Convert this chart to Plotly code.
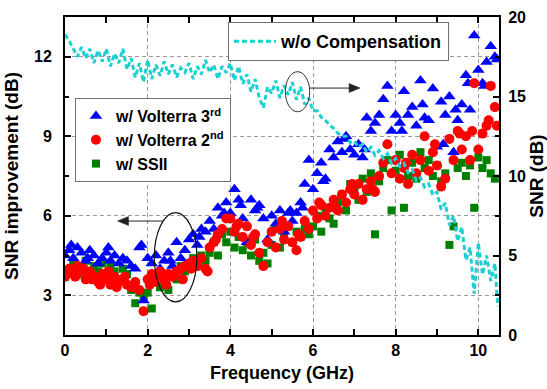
import plotly.graph_objects as go

# ---------------- data ----------------
freq = [0.0, 0.1, 0.2, 0.3, 0.4, 0.5, 0.6, 0.7, 0.8, 0.9,
        1.0, 1.1, 1.2, 1.3, 1.4, 1.5, 1.6, 1.7, 1.8, 1.9,
        2.0, 2.1, 2.2, 2.3, 2.4, 2.5, 2.6, 2.7, 2.8, 2.9,
        3.0, 3.1, 3.2, 3.3, 3.4, 3.5, 3.6, 3.7, 3.8, 3.9,
        4.0, 4.1, 4.2, 4.3, 4.4, 4.5, 4.6, 4.7, 4.8, 4.9,
        5.0, 5.1, 5.2, 5.3, 5.4, 5.5, 5.6, 5.7, 5.8, 5.9,
        6.0, 6.1, 6.2, 6.3, 6.4, 6.5, 6.6, 6.7, 6.8, 6.9,
        7.0, 7.1, 7.2, 7.3, 7.4, 7.5, 7.6, 7.7, 7.8, 7.9,
        8.0, 8.1, 8.2, 8.3, 8.4, 8.5, 8.6, 8.7, 8.8, 8.9,
        9.0, 9.1, 9.2, 9.3, 9.4, 9.5, 9.6, 9.7, 9.8, 9.9,
        10.0, 10.1, 10.2, 10.3, 10.4]

# SNR improvement (dB), w/ Volterra 3rd
volterra3 = [4.5, 4.7, 4.4, 4.8, 4.6, 4.3, 4.7, 4.5, 4.2, 4.4,
             4.6, 4.3, 4.5, 4.2, 4.4, 4.3, 4.1, 4.0, 4.8, 2.8,
             4.4, 4.2, 4.5, 4.0, 4.3, 4.6, 4.1, 5.0, 4.4, 4.7,
             5.1, 5.3, 4.9, 5.5, 5.4, 5.8, 5.5, 6.3, 6.0, 6.5,
             6.1, 7.0, 6.6, 5.9, 5.0, 6.6, 6.2, 6.4, 5.9, 5.1,
             6.0, 5.7, 6.2, 5.4, 6.1, 5.8, 6.1, 6.5, 7.2, 8.1,
             7.0, 7.6, 8.0, 7.4, 8.5, 8.2, 8.8, 8.4, 9.0, 8.5,
             8.3, 8.7, 8.2, 9.7, 9.2, 9.5, 9.8, 10.4, 10.9, 9.2,
             9.8, 9.5, 10.7, 9.8, 10.1, 9.4, 11.1, 9.7, 9.6, 10.8,
             8.6, 10.3, 9.8, 10.5, 8.4, 9.6, 10.2, 11.3, 10.0, 12.8,
             11.5, 11.0, 11.8, 12.4, 12.0]
volterra3_extra_freq = [0.15, 0.55, 1.05, 1.85, 2.55, 3.25, 3.85, 4.25, 4.65, 5.45,
                        5.75, 6.25, 6.75, 7.25, 8.15, 8.65, 9.15, 9.45, 9.75, 10.15, 10.45]
volterra3_extra = [4.9, 4.4, 4.8, 4.9, 4.3, 5.2, 6.1, 6.4, 6.3, 6.2,
                   6.3, 7.3, 8.9, 8.5, 9.2, 10.2, 8.7, 10.0, 11.0, 10.9, 11.9]

# SNR improvement (dB), w/ Volterra 2nd
volterra2 = [3.7, 4.0, 3.8, 4.1, 3.9, 3.6, 3.9, 3.7, 3.5, 3.8,
             3.6, 3.4, 3.7, 3.5, 3.6, 3.4, 3.3, 3.5, 3.2, 2.4,
             3.6, 3.8, 3.5, 3.9, 3.6, 3.8, 3.7, 3.9, 4.0, 4.1,
             4.2, 4.3, 4.1, 4.4, 4.0, 4.8, 5.0, 5.3, 5.5, 5.9,
             5.9, 5.4, 5.7, 5.2, 5.6, 4.9, 5.3, 4.6, 4.1, 5.0,
             5.4, 4.8, 5.5, 5.1, 5.6, 5.0, 4.7, 5.2, 5.8, 5.5,
             6.2, 5.9, 6.4, 6.0, 6.3, 6.6, 6.2, 6.8, 6.5, 7.0,
             6.8, 7.2, 6.6, 7.0, 7.3, 6.9, 7.5, 8.0, 8.7, 7.6,
             8.1, 7.4, 7.8, 7.2, 8.3, 7.6, 8.1, 9.0, 7.7, 8.4,
             7.9, 7.1, 7.4, 8.9, 8.1, 9.2, 8.5, 9.0, 8.1, 11.0,
             8.5, 9.1, 9.4, 10.9, 10.1]
volterra2_extra_freq = [0.05, 0.25, 0.45, 0.65, 0.85, 1.05, 1.25, 1.45, 1.65, 2.05,
                        2.25, 2.45, 2.65, 2.85, 3.05, 3.45, 3.65, 4.15, 4.55, 5.25,
                        5.65, 6.15, 6.55, 6.95, 7.45, 8.25, 8.95, 9.55, 9.85, 10.25, 10.45]
volterra2_extra = [3.9, 3.7, 4.0, 3.6, 3.4, 3.9, 3.3, 3.7, 3.3, 3.4,
                   3.6, 3.4, 3.8, 3.6, 4.0, 3.9, 5.1, 5.6, 5.2, 5.8,
                   5.3, 6.5, 6.3, 7.2, 7.0, 8.0, 8.7, 9.1, 9.2, 9.6, 9.4]

# SNR improvement (dB), w/ SSII
ssii = [3.7, 3.9, 4.2, 3.8, 4.0, 4.3, 3.7, 4.1, 3.9, 4.2,
        3.8, 4.1, 3.9, 3.6, 4.0, 3.8, 3.2, 2.7, 3.1, 3.0,
        3.1, 2.5, 3.5, 3.3, 3.7, 3.2, 3.8, 3.6, 4.1, 3.9,
        4.0, 4.4, 4.2, 4.5, 4.3, 4.6, 5.0, 4.5, 5.3, 5.0,
        5.4, 4.8, 5.2, 4.7, 5.0, 4.5, 5.1, 4.3, 4.6, 4.2,
        4.9, 5.5, 4.8, 5.3, 5.6, 5.0, 5.4, 5.2, 5.5, 5.3,
        5.6, 6.0, 5.4, 6.3, 5.9, 5.7, 6.5, 6.8, 6.2, 7.2,
        7.0, 6.6, 7.4, 6.9, 7.6, 5.3, 7.3, 7.8, 8.1, 6.2,
        7.7, 8.3, 6.3, 7.5, 8.0, 7.4, 8.4, 7.8, 8.1, 7.5,
        7.9, 7.3, 7.6, 4.9, 5.6, 7.8, 8.0, 7.5, 7.9, 6.3,
        8.2, 7.8, 8.1, 7.6, 7.4]

# SNR (dB) without compensation (right axis)
snr_freq = [0.0, 0.1, 0.2, 0.3, 0.4, 0.5, 0.6, 0.7, 0.8, 0.9,
            1.0, 1.1, 1.2, 1.3, 1.4, 1.5, 1.6, 1.7, 1.8, 1.9,
            2.0, 2.1, 2.2, 2.3, 2.4, 2.5, 2.6, 2.7, 2.8, 2.9,
            3.0, 3.1, 3.2, 3.3, 3.4, 3.5, 3.6, 3.7, 3.8, 3.9,
            4.0, 4.1, 4.2, 4.3, 4.4, 4.5, 4.6, 4.7, 4.8, 4.9,
            5.0, 5.1, 5.2, 5.3, 5.4, 5.5, 5.6, 5.7, 5.8, 5.9,
            6.0, 6.1, 6.2, 6.3, 6.4, 6.5, 6.6, 6.7, 6.8, 6.9,
            7.0, 7.1, 7.2, 7.3, 7.4, 7.5, 7.6, 7.7, 7.8, 7.9,
            8.0, 8.1, 8.2, 8.3, 8.4, 8.5, 8.6, 8.7, 8.8, 8.9,
            9.0, 9.1, 9.2, 9.3, 9.4, 9.5, 9.6, 9.7, 9.8, 9.9,
            10.0, 10.1, 10.2, 10.3, 10.4, 10.47]
snr_wo = [18.9, 18.5, 18.0, 17.5, 18.1, 17.4, 18.0, 17.1, 17.9, 17.2,
          18.0, 16.9, 17.7, 17.1, 18.0, 16.7, 17.4, 16.2, 17.1, 15.9,
          17.3, 16.1, 17.0, 16.3, 17.2, 16.4, 17.0, 16.2, 16.8, 16.5,
          17.1, 16.1, 16.9, 16.4, 17.3, 16.5, 17.0, 16.1, 16.9, 16.5,
          17.1, 16.0, 16.9, 15.8, 16.4, 15.3, 16.1, 14.9, 14.3, 15.6,
          15.2, 16.0, 14.9, 15.7, 15.1, 15.9, 14.8, 15.6, 14.5, 14.9,
          14.1, 14.1, 13.7, 13.5, 13.2, 13.0, 12.7, 12.5, 12.5, 12.1,
          12.2, 11.8, 12.0, 11.5, 11.8, 11.3, 11.6, 11.1, 11.4, 10.8,
          11.1, 10.6, 10.8, 10.2, 10.4, 9.7, 9.9, 9.3, 9.5, 8.8,
          9.0, 7.9, 8.3, 6.9, 7.5, 5.9, 6.8, 4.7, 5.5, 2.6,
          5.8, 3.8, 5.0, 3.4, 4.5, 1.8]

# ---------------- figure ----------------
FONT = "Liberation Sans, Arial, sans-serif"
blue, red, green, cyan = "#0000FF", "#FF0000", "#008000", "#1ECFD2"

fig = go.Figure()
fig.add_trace(go.Scatter(
    x=freq, y=ssii, mode="markers", name="w/ SSII", legend="legend2", legendrank=3,
    marker=dict(symbol="square", size=8, color=green, line=dict(width=0))))
fig.add_trace(go.Scatter(
    x=freq + volterra3_extra_freq, y=volterra3 + volterra3_extra, mode="markers",
    name="w/ Volterra 3<sup>rd</sup>", legend="legend2", legendrank=1,
    marker=dict(symbol="triangle-up", size=11, color=blue, line=dict(width=0))))
fig.add_trace(go.Scatter(
    x=freq + volterra2_extra_freq, y=volterra2 + volterra2_extra, mode="markers",
    name="w/ Volterra 2<sup>nd</sup>", legend="legend2", legendrank=2,
    marker=dict(symbol="circle", size=10, color=red, line=dict(width=0))))
fig.add_trace(go.Scatter(
    x=snr_freq, y=snr_wo, mode="lines", name="w/o Compensation", yaxis="y2",
    legend="legend", line=dict(color=cyan, width=3, dash="5px,3px")))

axis_common = dict(
    showline=True, linecolor="black", linewidth=2, ticks="inside",
    tickcolor="black", tickwidth=1.5, zeroline=False, automargin=False,
    tickfont=dict(family=FONT, size=16, color="black", weight="bold"),
)

# arrow annotations as shapes (line + filled head, head size in pixels)
arrow_color = "#222222"
shapes = [
    dict(type="circle", xref="x", yref="y2", x0=5.33, x1=5.92, y0=14.04, y1=16.56,
         line=dict(color="#333333", width=1)),
    dict(type="circle", xref="x", yref="y", x0=2.16, x1=3.19, y0=2.75, y1=6.12,
         line=dict(color="#111111", width=1.2)),
    dict(type="line", xref="x", yref="y2", x0=5.92, x1=6.95, y0=15.53, y1=15.53,
         line=dict(color=arrow_color, width=1)),
    dict(type="path", xref="x", yref="y2", xsizemode="pixel", ysizemode="pixel",
         xanchor=7.14, yanchor=15.53, path="M0,0 L-11,-4.5 L-11,4.5 Z",
         fillcolor=arrow_color, line=dict(color=arrow_color, width=0.5)),
    dict(type="line", xref="x", yref="y", x0=2.36, x1=1.45, y0=5.8, y1=5.8,
         line=dict(color=arrow_color, width=1)),
    dict(type="path", xref="x", yref="y", xsizemode="pixel", ysizemode="pixel",
         xanchor=1.27, yanchor=5.8, path="M0,0 L11,-4.5 L11,4.5 Z",
         fillcolor=arrow_color, line=dict(color=arrow_color, width=0.5)),
]

fig.update_layout(
    width=547, height=389,
    margin=dict(l=65, r=48, t=17, b=54),
    paper_bgcolor="white", plot_bgcolor="white",
    font=dict(family=FONT, color="black"),
    showlegend=True,
    xaxis=dict(
        range=[0, 10.5], tick0=0, dtick=2, ticklen=6, mirror="allticks",
        showgrid=True, gridcolor="#9A9A9A", griddash="4px,3px", gridwidth=1,
        minor=dict(dtick=1, ticks="inside", ticklen=4, tickcolor="black", showgrid=False),
        title=dict(text="Frequency (GHz)", standoff=8,
                   font=dict(family=FONT, size=18, color="black", weight="bold")),
        **axis_common),
    yaxis=dict(
        range=[1.5, 13.5], tick0=0, dtick=3, ticklen=6, ticklabelstandoff=8,
        showgrid=True, gridcolor="#9A9A9A", griddash="4px,3px", gridwidth=1,
        minor=dict(dtick=1.5, ticks="inside", ticklen=4, tickcolor="black", showgrid=False),
        title=dict(text="SNR improvement (dB)", standoff=10,
                   font=dict(family=FONT, size=19, color="black", weight="bold")),
        **axis_common),
    yaxis2=dict(
        range=[0, 20], tick0=0, dtick=5, ticklen=6, overlaying="y", side="right",
        ticklabelstandoff=4, showgrid=False,
        minor=dict(dtick=2.5, ticks="inside", ticklen=4, tickcolor="black", showgrid=False),
        title=dict(text="SNR (dB)", standoff=6,
                   font=dict(family=FONT, size=19, color="black", weight="bold")),
        **axis_common),
    legend=dict(
        x=0.3756, y=0.984, xanchor="left", yanchor="top",
        bgcolor="white", bordercolor="#707070", borderwidth=1,
        font=dict(family=FONT, size=18, color="black", weight="bold"),
        itemwidth=42),
    legend2=dict(
        x=0.023, y=0.745, xanchor="left", yanchor="top",
        bgcolor="white", bordercolor="#707070", borderwidth=1,
        font=dict(family=FONT, size=16, color="black", weight="bold"),
        tracegroupgap=0, itemwidth=30),
    shapes=shapes,
)

fig.write_html("out.html")
